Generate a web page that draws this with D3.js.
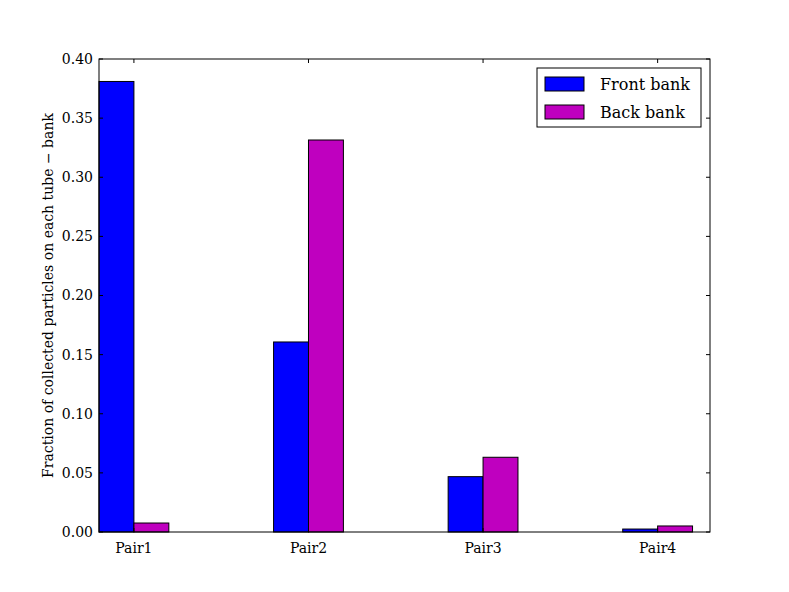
<!DOCTYPE html>
<html><head><meta charset="utf-8">
<script src="https://cdn.jsdelivr.net/npm/d3@7"></script>
<style>body{margin:0;background:#fff}svg{display:block}text{font-family:"DejaVu Serif","Liberation Serif",serif;fill:#000}</style>
</head><body>
<script>
const categories = ["Pair1","Pair2","Pair3","Pair4"];
const frontBank = [0.381, 0.1607, 0.0468, 0.0025];
const backBank = [0.0076, 0.3315, 0.0632, 0.0051];
const seriesNames = ["Front bank","Back bank"];
const seriesColors = ["#0000ff","#bf00bf"];
const yTicks = [0,0.05,0.10,0.15,0.20,0.25,0.30,0.35,0.40];
const yLabel = "Fraction of collected particles on each tube \u2212 bank";

const W=789,H=592, L=99,R=710,T=59,B=532;
const svg=d3.select("body").append("svg").attr("width",W).attr("height",H);
const x=d3.scaleLinear().domain([0,3.5]).range([L,R]);
const y=d3.scaleLinear().domain([0,0.4]).range([B,T]);
const bw=0.2;
const series=[frontBank,backBank];
series.forEach((vals,si)=>{
  svg.append("g").selectAll("rect").data(vals).join("rect")
    .attr("x",(d,i)=>x(i+si*bw)).attr("width",x(bw)-x(0))
    .attr("y",d=>y(d)).attr("height",d=>y(0)-y(d))
    .attr("fill",seriesColors[si]).attr("stroke","#000").attr("stroke-width",1);
});
// frame
svg.append("rect").attr("x",L).attr("y",T).attr("width",R-L).attr("height",B-T).attr("fill","none").attr("stroke","#000").attr("stroke-width",1);
// y ticks
const yg=svg.append("g");
yTicks.forEach(t=>{
  yg.append("line").attr("x1",L).attr("x2",L+4).attr("y1",y(t)).attr("y2",y(t)).attr("stroke","#000");
  yg.append("line").attr("x1",R).attr("x2",R-4).attr("y1",y(t)).attr("y2",y(t)).attr("stroke","#000");
  yg.append("text").attr("x",L-6).attr("y",y(t)).attr("dy","0.35em").attr("text-anchor","end").attr("font-size",14).text(d3.format(".2f")(t));
});
// x ticks
categories.forEach((c,i)=>{
  const xp=x(i+bw);
  svg.append("line").attr("x1",xp).attr("x2",xp).attr("y1",B).attr("y2",B-4).attr("stroke","#000");
  svg.append("line").attr("x1",xp).attr("x2",xp).attr("y1",T).attr("y2",T+4).attr("stroke","#000");
  svg.append("text").attr("x",xp).attr("y",B+21).attr("text-anchor","middle").attr("font-size",14).text(c);
});
// y label
svg.append("text").attr("transform",`translate(53,${(T+B)/2}) rotate(-90)`).attr("text-anchor","middle").attr("font-size",14).text(yLabel);
// legend
const lg=svg.append("g");
lg.append("rect").attr("x",537).attr("y",68).attr("width",164).attr("height",59).attr("fill","#fff").attr("stroke","#000");
seriesNames.forEach((n,i)=>{
  lg.append("rect").attr("x",545).attr("y",77+i*28).attr("width",39).attr("height",14).attr("fill",seriesColors[i]).attr("stroke","#000");
  lg.append("text").attr("x",600).attr("y",84+i*28).attr("dy","0.35em").attr("font-size",16).text(n);
});
</script>
</body></html>
